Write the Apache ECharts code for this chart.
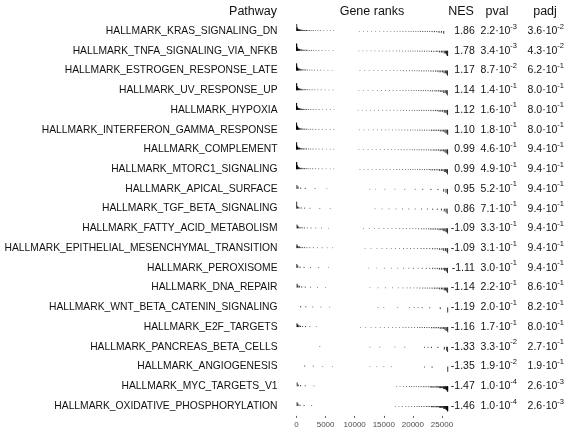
<!DOCTYPE html>
<html>
<head>
<meta charset="utf-8">
<script src="https://cdn.jsdelivr.net/npm/echarts@6/dist/echarts.min.js"></script>
<style>
  html, body { margin: 0; padding: 0; background: #fff; }
  #chart { width: 567px; height: 434px; }
</style>
</head>
<body>
<div id="chart"></div>
<script>
// Hallmark pathways, one row each (top to bottom)
const pathways = [
  'HALLMARK_KRAS_SIGNALING_DN',
  'HALLMARK_TNFA_SIGNALING_VIA_NFKB',
  'HALLMARK_ESTROGEN_RESPONSE_LATE',
  'HALLMARK_UV_RESPONSE_UP',
  'HALLMARK_HYPOXIA',
  'HALLMARK_INTERFERON_GAMMA_RESPONSE',
  'HALLMARK_COMPLEMENT',
  'HALLMARK_MTORC1_SIGNALING',
  'HALLMARK_APICAL_SURFACE',
  'HALLMARK_TGF_BETA_SIGNALING',
  'HALLMARK_FATTY_ACID_METABOLISM',
  'HALLMARK_EPITHELIAL_MESENCHYMAL_TRANSITION',
  'HALLMARK_PEROXISOME',
  'HALLMARK_DNA_REPAIR',
  'HALLMARK_WNT_BETA_CATENIN_SIGNALING',
  'HALLMARK_E2F_TARGETS',
  'HALLMARK_PANCREAS_BETA_CELLS',
  'HALLMARK_ANGIOGENESIS',
  'HALLMARK_MYC_TARGETS_V1',
  'HALLMARK_OXIDATIVE_PHOSPHORYLATION'
];

const nes = [1.86, 1.78, 1.17, 1.14, 1.12, 1.10, 0.99, 0.99, 0.95, 0.86,
             -1.09, -1.09, -1.11, -1.14, -1.19, -1.16, -1.33, -1.35, -1.47, -1.46];

const pval = [2.2e-3, 3.4e-3, 8.7e-2, 1.4e-1, 1.6e-1, 1.8e-1, 4.6e-1, 4.9e-1, 5.2e-1, 7.1e-1,
              3.3e-1, 3.1e-1, 3.0e-1, 2.2e-1, 2.0e-1, 1.7e-1, 3.3e-2, 1.9e-2, 1.0e-4, 1.0e-4];

const padj = [3.6e-2, 4.3e-2, 6.2e-1, 8.0e-1, 8.0e-1, 8.0e-1, 9.4e-1, 9.4e-1, 9.4e-1, 9.4e-1,
              9.4e-1, 9.4e-1, 9.4e-1, 8.6e-1, 8.2e-1, 8.0e-1, 2.7e-1, 1.9e-1, 2.6e-3, 2.6e-3];

// Gene rank axis
const rankTicks = [0, 5000, 10000, 15000, 20000, 25000];
const rankMax = 26000;

// Ranked statistic (scaled to max |stat| = 1), as a step profile over rank
const statRanks  = [0, 50, 150, 300, 600, 1000, 1800, 3000, 4500, 6600, 10400, 14000, 18000, 21000, 23000, 24500, 25300, 25700, 25900];
const statValues = [1.0, 0.55, 0.35, 0.25, 0.18, 0.14, 0.11, 0.09, 0.07, 0, -0.07, -0.08, -0.1, -0.13, -0.17, -0.26, -0.4, -0.55, -0.75];

// Ranks of each pathway's genes in the ranked list
const geneRanks = [
  [40, 90, 160, 240, 330, 430, 540, 660, 800, 950, 1120, 1300, 1500, 1720, 1960, 2230, 2530, 2870, 3250, 3680, 4150, 4680, 5250, 5850, 6400,
   10800, 11500, 12200, 12900, 13600, 14300, 15000, 15600, 16200, 16800, 17300, 17800, 18300, 18800, 19300, 19700, 20100, 20500, 20900, 21300, 21700, 22100, 22500, 22900, 23300, 23700, 24100, 24500, 24900, 25300],
  [3, 15, 40, 75, 120, 175, 240, 320, 410, 510, 620, 750, 900, 1070, 1260, 1470, 1700, 1960, 2250, 2580, 2950, 3370, 3850, 4380, 4950, 5600, 6300,
   10700, 11400, 12100, 12800, 13500, 14200, 14800, 15400, 16000, 16600, 17200, 17700, 18200, 18700, 19200, 19600, 20000, 20400, 20800, 21200, 21600, 22000, 22400, 22800, 23200, 23600, 24000, 24300, 24600, 24900, 25150, 25400, 25600, 25780, 25900, 25970],
  [8, 30, 65, 110, 170, 250, 340, 450, 580, 730, 900, 1100, 1330, 1600, 1900, 2250, 2650, 3100, 3600, 4150, 4750, 5400, 6100,
   10900, 11700, 12500, 13300, 14000, 14700, 15400, 16100, 16700, 17300, 17900, 18400, 18900, 19400, 19900, 20300, 20700, 21100, 21500, 21900, 22300, 22700, 23100, 23500, 23900, 24200, 24500, 24800, 25100, 25350, 25600, 25800, 25950],
  [10, 35, 70, 120, 185, 260, 350, 460, 590, 740, 910, 1110, 1340, 1610, 1920, 2280, 2690, 3150, 3670, 4250, 4900, 5600, 6300,
   10700, 11500, 12300, 13100, 13900, 14600, 15300, 16000, 16600, 17200, 17800, 18300, 18800, 19300, 19800, 20200, 20600, 21000, 21400, 21800, 22200, 22600, 23000, 23400, 23800, 24100, 24400, 24700, 25000, 25300, 25550, 25750, 25920],
  [6, 25, 55, 100, 160, 230, 320, 420, 540, 680, 840, 1020, 1230, 1480, 1760, 2080, 2450, 2870, 3350, 3900, 4500, 5150, 5850, 6450,
   10600, 11300, 12000, 12700, 13400, 14100, 14800, 15500, 16100, 16700, 17300, 17900, 18400, 18900, 19400, 19900, 20300, 20700, 21100, 21500, 21900, 22300, 22700, 23100, 23500, 23900, 24200, 24500, 24800, 25100, 25400, 25650, 25850, 25960],
  [4, 20, 50, 90, 140, 200, 280, 370, 480, 610, 760, 940, 1150, 1400, 1680, 2000, 2370, 2800, 3300, 3850, 4450, 5100, 5800, 6400,
   10800, 11600, 12400, 13200, 13900, 14600, 15300, 15900, 16500, 17100, 17600, 18100, 18600, 19100, 19600, 20000, 20400, 20800, 21200, 21600, 22000, 22400, 22800, 23200, 23500, 23800, 24100, 24400, 24700, 25000, 25250, 25500, 25700, 25880, 25980],
  [5, 22, 50, 95, 150, 215, 300, 400, 520, 660, 820, 1000, 1210, 1450, 1730, 2050, 2420, 2840, 3320, 3860, 4460, 5120, 5820, 6420,
   10700, 11500, 12300, 13000, 13700, 14400, 15100, 15700, 16300, 16900, 17500, 18000, 18500, 19000, 19500, 19900, 20300, 20700, 21100, 21500, 21900, 22300, 22700, 23100, 23500, 23800, 24100, 24400, 24700, 25000, 25250, 25500, 25700, 25880, 25970],
  [3, 18, 45, 85, 135, 195, 270, 360, 470, 600, 750, 930, 1140, 1380, 1660, 1980, 2350, 2780, 3270, 3820, 4420, 5080, 5780, 6380,
   10900, 11600, 12300, 13000, 13700, 14300, 14900, 15500, 16100, 16700, 17200, 17700, 18200, 18700, 19200, 19600, 20000, 20400, 20800, 21200, 21600, 22000, 22400, 22800, 23100, 23400, 23700, 24000, 24300, 24600, 24900, 25150, 25400, 25600, 25800, 25950],
  [70, 260, 720, 1500, 3200, 5200, 12600, 13600, 15200, 16900, 18600, 20400, 21700, 23100, 24300, 25300, 25700, 25950],
  [30, 150, 400, 800, 1400, 2300, 4000, 5800, 13500, 14700, 15900, 17100, 18200, 19300, 20400, 21500, 22500, 23400, 24200, 24900, 25400, 25700, 25900],
  [90, 200, 380, 620, 950, 1350, 1850, 2500, 3300, 4300, 5500, 11500, 12500, 13400, 14200, 15000, 15700, 16400, 17100, 17700, 18300, 18900, 19500, 20000, 20500, 21000, 21500, 21900, 22300, 22700, 23000, 23300, 23600, 23900, 24200, 24500, 24800, 25050, 25300, 25500, 25700, 25850, 25960],
  [60, 150, 300, 500, 750, 1050, 1400, 1800, 2300, 2900, 3600, 4400, 5300, 6200, 11800, 12800, 13800, 14700, 15500, 16300, 17000, 17700, 18400, 19000, 19600, 20200, 20800, 21400, 21900, 22400, 22900, 23400, 23800, 24200, 24600, 25000, 25300, 25600, 25850, 25970],
  [50, 220, 600, 1300, 2400, 3800, 5500, 12400, 13800, 15100, 16300, 17400, 18400, 19300, 20100, 20900, 21600, 22300, 22900, 23400, 23800, 24200, 24550, 24900, 25200, 25450, 25650, 25820, 25950],
  [100, 250, 500, 900, 1500, 2400, 3600, 5000, 12600, 14000, 15300, 16500, 17500, 18300, 19000, 19600, 20200, 20700, 21200, 21700, 22100, 22500, 22900, 23300, 23700, 24000, 24300, 24600, 24900, 25150, 25400, 25600, 25800, 25960],
  [700, 1600, 2800, 4200, 5700, 14000, 15000, 17400, 19400, 20200, 20900, 21600, 22900, 24700, 25980],
  [80, 160, 280, 450, 700, 1050, 1550, 2300, 3400, 11000, 11900, 12800, 13600, 14400, 15100, 15800, 16500, 17100, 17700, 18300, 18800, 19300, 19800, 20300, 20800, 21200, 21600, 22000, 22400, 22800, 23200, 23500, 23800, 24100, 24400, 24700, 25000, 25250, 25500, 25700, 25880, 25980],
  [4000, 12600, 14300, 16900, 18600, 22000, 22600, 23200, 24300, 25400, 25800, 25960],
  [1400, 2900, 4500, 6200, 12600, 13800, 15000, 16300, 22000, 23300, 25990],
  [120, 300, 700, 1500, 3000, 17200, 17800, 18400, 18900, 19400, 19800, 20200, 20600, 21000, 21400, 21800, 22100, 22400, 22700, 23000, 23200, 23400, 23600, 23800, 24000, 24150, 24300, 24450, 24600, 24750, 24900, 25050, 25200, 25300, 25400, 25500, 25600, 25700, 25780, 25850, 25910, 25960, 25990],
  [100, 260, 600, 1300, 2600, 17000, 17600, 18200, 18800, 19300, 19800, 20300, 20700, 21100, 21500, 21900, 22300, 22600, 22900, 23200, 23400, 23600, 23800, 24000, 24150, 24300, 24450, 24600, 24750, 24900, 25050, 25200, 25300, 25400, 25500, 25600, 25700, 25780, 25850, 25910, 25960, 25990]
];

// Statistic at a given rank (step lookup)
function statAt(r) {
  let v = statValues[0];
  for (let i = 0; i < statRanks.length; i++) {
    if (r >= statRanks[i]) v = statValues[i];
  }
  return v;
}

const marks = [];
geneRanks.forEach((ranks, row) => {
  ranks.forEach(r => marks.push([r, row, statAt(r)]));
});

// "2.2·10^-3" style with a raised exponent
function sci(v) {
  const parts = v.toExponential(1).split('e');
  return '{b|' + parts[0] + '·10}{s|' + (+parts[1]) + '}';
}

const FONT = 'Liberation Sans, Arial, sans-serif';
const BAR_PX = 7; // pixel height of a |stat| = 1 bar

const chart = echarts.init(document.getElementById('chart'), null, { renderer: 'canvas' });

const hiddenAxis = { show: false };
const sciRich = {
  b: { fontFamily: FONT, fontSize: 10.5, color: '#111', lineHeight: 17 },
  s: { fontFamily: FONT, fontSize: 7.5, color: '#111', lineHeight: 8, verticalAlign: 'top' }
};

chart.setOption({
  animation: false,
  backgroundColor: '#fff',
  grid: {
    left: 296.5, right: 119.2, top: 21.1, bottom: 18.1,
    containLabel: false, outerBoundsMode: 'none'
  },
  xAxis: {
    type: 'value',
    min: 0,
    max: rankMax,
    axisLine: hiddenAxis,
    splitLine: hiddenAxis,
    axisTick: { show: true, length: 2, customValues: rankTicks, lineStyle: { color: '#333', width: 0.8 } },
    axisLabel: {
      customValues: rankTicks, fontFamily: FONT, fontSize: 8, color: '#4d4d4d', margin: 5,
      formatter: v => String(v)
    }
  },
  yAxis: [
    {
      type: 'category', data: pathways, inverse: true, position: 'left',
      axisLine: hiddenAxis, axisTick: hiddenAxis, splitLine: hiddenAxis,
      axisLabel: { fontFamily: FONT, fontSize: 10.3, color: '#111', margin: 19 }
    },
    {
      type: 'category', data: pathways, inverse: true, position: 'right',
      axisLine: hiddenAxis, axisTick: hiddenAxis, splitLine: hiddenAxis,
      axisLabel: {
        fontFamily: FONT, fontSize: 10.5, color: '#111', margin: 27, align: 'right',
        formatter: (v, i) => nes[i].toFixed(2)
      }
    },
    {
      type: 'category', data: pathways, inverse: true, position: 'right',
      axisLine: hiddenAxis, axisTick: hiddenAxis, splitLine: hiddenAxis,
      axisLabel: { margin: 51, align: 'center', rich: sciRich, formatter: (v, i) => sci(pval[i]) }
    },
    {
      type: 'category', data: pathways, inverse: true, position: 'right',
      axisLine: hiddenAxis, axisTick: hiddenAxis, splitLine: hiddenAxis,
      axisLabel: { margin: 98, align: 'center', rich: sciRich, formatter: (v, i) => sci(padj[i]) }
    }
  ],
  graphic: [
    { type: 'text', x: 277, y: 12, style: { text: 'Pathway', align: 'right', verticalAlign: 'middle', font: '12.5px ' + FONT, fill: '#111' } },
    { type: 'text', x: 372, y: 12, style: { text: 'Gene ranks', align: 'center', verticalAlign: 'middle', font: '12.5px ' + FONT, fill: '#111' } },
    { type: 'text', x: 461, y: 12, style: { text: 'NES', align: 'center', verticalAlign: 'middle', font: '12.5px ' + FONT, fill: '#111' } },
    { type: 'text', x: 497, y: 12, style: { text: 'pval', align: 'center', verticalAlign: 'middle', font: '12.5px ' + FONT, fill: '#111' } },
    { type: 'text', x: 545, y: 12, style: { text: 'padj', align: 'center', verticalAlign: 'middle', font: '12.5px ' + FONT, fill: '#111' } }
  ],
  series: [{
    type: 'custom',
    xAxisIndex: 0,
    yAxisIndex: 0,
    data: marks,
    silent: true,
    renderItem: function (params, api) {
      const p = api.coord([api.value(0), api.value(1)]);
      const h = api.value(2) * BAR_PX;
      return {
        type: 'line',
        shape: { x1: p[0], y1: p[1], x2: p[0], y2: p[1] - h },
        style: { stroke: '#000', lineWidth: 0.8 }
      };
    }
  }]
});
</script>
</body>
</html>
